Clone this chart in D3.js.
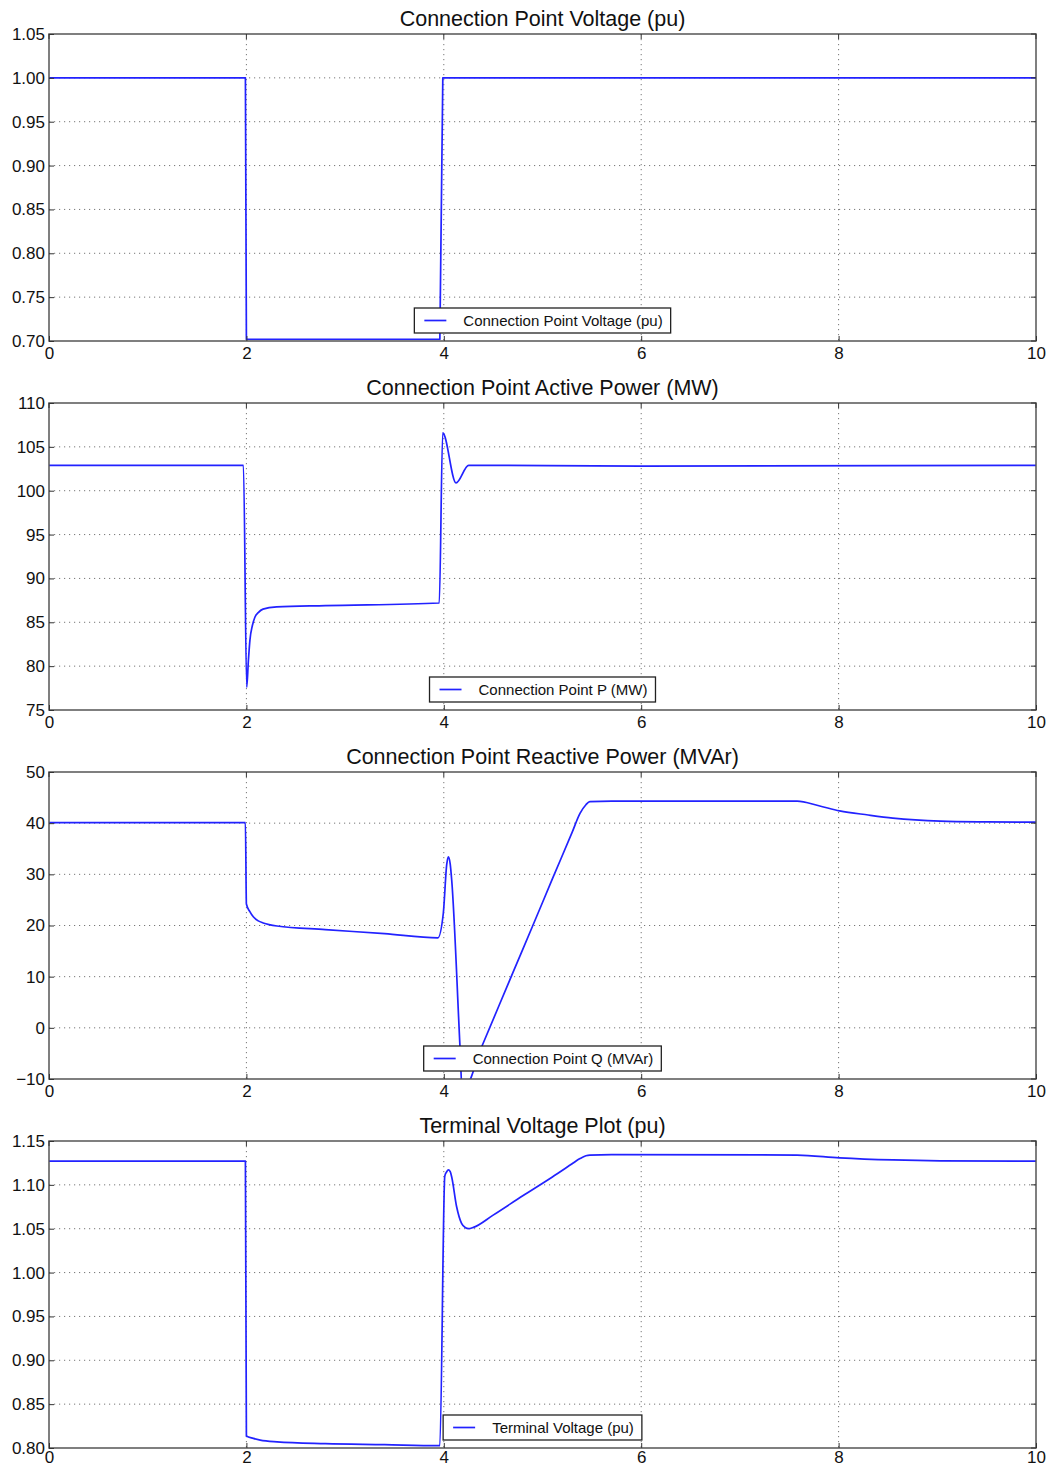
<!DOCTYPE html>
<html><head><meta charset="utf-8">
<script src="https://cdn.jsdelivr.net/npm/d3@7"></script>
<style>body{margin:0;background:#fff}svg{display:block;font-family:"Liberation Sans",Arial,sans-serif}</style>
</head><body>
<script>
// ---- data ----
const xTicks = [0, 2, 4, 6, 8, 10];

const titles = ["Connection Point Voltage (pu)", "Connection Point Active Power (MW)", "Connection Point Reactive Power (MVAr)", "Terminal Voltage Plot (pu)"];
const legendLabels = ["Connection Point Voltage (pu)", "Connection Point P (MW)", "Connection Point Q (MVAr)", "Terminal Voltage (pu)"];

const yTicks1 = [0.70, 0.75, 0.80, 0.85, 0.90, 0.95, 1.00, 1.05];
const yTicks2 = [75, 80, 85, 90, 95, 100, 105, 110];
const yTicks3 = [-10, 0, 10, 20, 30, 40, 50];
const yTicks4 = [0.80, 0.85, 0.90, 0.95, 1.00, 1.05, 1.10, 1.15];

const tV = [0, 1.99, 2.0, 3.96, 3.99, 10];
const vCP = [1.0, 1.0, 0.702, 0.702, 1.0, 1.0];

const tP = [0, 1.97, 2.003, 2.02, 2.036, 2.06, 2.087, 2.12, 2.168, 2.307, 2.8, 3.954, 3.989, 4.124, 4.252, 6, 10];
const pCP = [102.9, 102.9, 77.6, 80.6, 83.0, 84.6, 85.6, 86.1, 86.5, 86.75, 86.9, 87.2, 106.6, 100.9, 102.9, 102.8, 102.9];

const tQ = [0, 1.99, 2.0, 2.035, 2.07, 2.12, 2.17, 2.31, 2.8, 3.4, 3.94, 3.995, 4.03, 4.046, 4.065, 4.08, 4.164, 4.187, 4.384, 4.7, 4.9, 5.1, 5.3, 5.38, 5.44, 5.48, 5.7, 7.58, 7.8, 8.01, 8.3, 8.55, 9.03, 9.5, 9.97, 10];
const qCP = [40.1, 40.1, 24.2, 22.7, 21.7, 20.9, 20.5, 19.9, 19.2, 18.4, 17.6, 22.4, 32, 33.4, 32.0, 28.9, -3.7, -12.6, -3.7, 10.8, 19.9, 29.1, 38.2, 41.9, 43.6, 44.2, 44.3, 44.3, 43.4, 42.4, 41.6, 41.0, 40.4, 40.25, 40.2, 40.2];

const tT = [0, 1.99, 2.0, 2.07, 2.14, 2.31, 2.8, 3.4, 3.94, 3.96, 4.01, 4.03, 4.046, 4.065, 4.08, 4.13, 4.18, 4.22, 4.25, 4.3, 4.5, 4.8, 5.1, 5.3, 5.38, 5.44, 5.48, 5.7, 7.58, 8.01, 8.55, 9.03, 10];
const vT = [1.127, 1.127, 0.8137, 0.811, 0.809, 0.807, 0.805, 0.8038, 0.8026, 0.8026, 1.11, 1.115, 1.117, 1.115, 1.109, 1.075, 1.056, 1.051, 1.050, 1.0515, 1.0655, 1.0875, 1.109, 1.124, 1.130, 1.1332, 1.134, 1.1345, 1.134, 1.1308, 1.1284, 1.1274, 1.127];

const panels = [
  {t: tV, y: vCP, ticks: yTicks1, fmt: d3.format(".2f"), dom: [0.70, 1.05], smooth: false},
  {t: tP, y: pCP, ticks: yTicks2, fmt: d3.format("d"), dom: [75, 110], smooth: true},
  {t: tQ, y: qCP, ticks: yTicks3, fmt: d => d < 0 ? "\u2212" + Math.abs(d) : String(d), dom: [-10, 50], smooth: true},
  {t: tT, y: vT, ticks: yTicks4, fmt: d3.format(".2f"), dom: [0.80, 1.15], smooth: true}
];

// ---- layout ----
const W = 1050, H = 1468;
const left = 49, right = 1036;
const tops = [34, 403, 772, 1141];
const ph = 307;

const svg = d3.select("body").append("svg").attr("width", W).attr("height", H);
const x = d3.scaleLinear().domain([0, 10]).range([left, right]);

panels.forEach((p, i) => {
  const top = tops[i], bottom = top + ph;
  const y = d3.scaleLinear().domain(p.dom).range([bottom, top]);
  const g = svg.append("g");

  g.append("clipPath").attr("id", "clip" + i).append("rect")
    .attr("x", left).attr("y", top).attr("width", right - left).attr("height", ph);

  // grid
  const grid = g.append("g").attr("stroke", "#777").attr("stroke-width", 1).attr("stroke-dasharray", "1.2,3.8");
  xTicks.slice(1, -1).forEach(v => grid.append("line").attr("x1", x(v)).attr("x2", x(v)).attr("y1", top).attr("y2", bottom));
  p.ticks.slice(1, -1).forEach(v => grid.append("line").attr("x1", left).attr("x2", right).attr("y1", y(v)).attr("y2", y(v)));

  // line
  const data = p.t.map((t, k) => [t, p.y[k]]);
  g.append("path").datum(data).attr("clip-path", "url(#clip" + i + ")")
    .attr("fill", "none").attr("stroke", "#2222ff").attr("stroke-width", 1.7)
    .attr("stroke-linejoin", "round")
    .attr("d", d3.line().curve(p.smooth ? d3.curveMonotoneX : d3.curveLinear).x(d => x(d[0])).y(d => y(d[1])));

  // frame
  g.append("rect").attr("x", left).attr("y", top).attr("width", right - left).attr("height", ph)
    .attr("fill", "none").attr("stroke", "#555").attr("stroke-width", 1.5);

  // axes
  const ax = g.append("g").attr("transform", `translate(0,${bottom})`)
    .call(d3.axisBottom(x).tickValues(xTicks).tickSize(-5).tickPadding(i === 3 ? 3 : 6).tickFormat(d3.format("d")));
  const ay = g.append("g").attr("transform", `translate(${left},0)`)
    .call(d3.axisLeft(y).tickValues(p.ticks).tickSize(-5).tickPadding(4).tickFormat(p.fmt));
  [ax, ay].forEach(a => {
    a.select(".domain").remove();
    a.selectAll(".tick line").attr("stroke", "#333");
    a.selectAll("text").attr("font-size", 17).attr("fill", "#111").attr("font-family", "Liberation Sans, Arial, sans-serif");
  });
  // right & top ticks
  const tk = g.append("g").attr("stroke", "#333");
  p.ticks.forEach(v => tk.append("line").attr("x1", right).attr("x2", right - 5).attr("y1", y(v)).attr("y2", y(v)));
  xTicks.forEach(v => tk.append("line").attr("x1", x(v)).attr("x2", x(v)).attr("y1", top).attr("y2", top + 5));

  // title
  g.append("text").attr("x", (left + right) / 2).attr("y", top - 8).attr("text-anchor", "middle")
    .attr("font-size", 21.5).attr("fill", "#111").text(titles[i]);

  // legend (lower center)
  const lg = g.append("g");
  const txt = lg.append("text").attr("font-size", 15).attr("fill", "#111").text(legendLabels[i]);
  const tw = txt.node().getComputedTextLength();
  const bw = tw + 57, bh = 25;
  const bx = (left + right) / 2 - bw / 2, by = bottom - 8 - bh;
  lg.insert("rect", "text").attr("x", bx).attr("y", by).attr("width", bw).attr("height", bh)
    .attr("fill", "#fff").attr("stroke", "#222").attr("stroke-width", 1.3);
  lg.append("line").attr("x1", bx + 10).attr("x2", bx + 32).attr("y1", by + bh / 2).attr("y2", by + bh / 2)
    .attr("stroke", "#2222ff").attr("stroke-width", 1.7);
  txt.attr("x", bx + 49).attr("y", by + bh / 2 + 5);
});
</script>
</body></html>
